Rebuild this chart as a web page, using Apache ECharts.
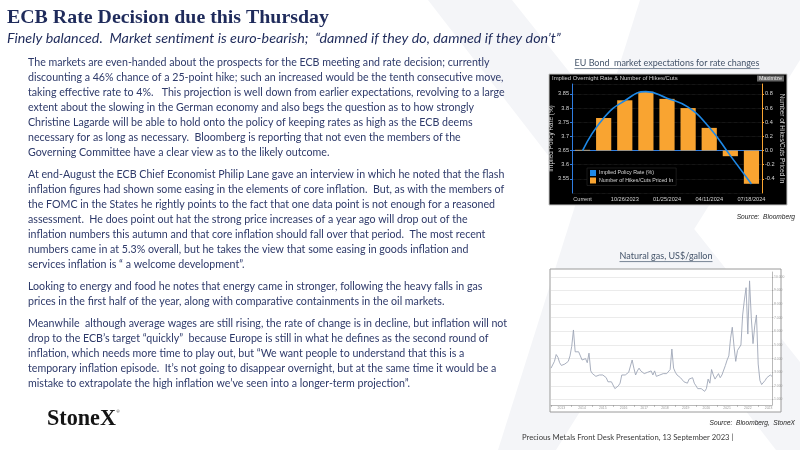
<!DOCTYPE html>
<html>
<head>
<meta charset="utf-8">
<script src="https://cdn.jsdelivr.net/npm/echarts@6/dist/echarts.min.js"></script>
<style>
  html, body { margin: 0; padding: 0; background: #fff; }
  #chart { width: 800px; height: 450px; }
</style>
</head>
<body>
<div id="chart"></div>
<script>
// ECB meetings and what the market prices in for each
const meetingDates = ['Current', '09/14/2023', '10/26/2023', '12/14/2023', '01/25/2024', '03/07/2024', '04/11/2024', '06/06/2024', '07/18/2024'];
const hikesPricedIn = [0.01, 0.46, 0.71, 0.83, 0.73, 0.60, 0.32, -0.08, -0.47];
const impliedRate = [3.65, 3.765, 3.826, 3.858, 3.835, 3.803, 3.732, 3.632, 3.532];

// Natural gas, monthly, Jan 2013 - Sep 2023
const gasYears = ['2013', '2014', '2015', '2016', '2017', '2018', '2019', '2020', '2021', '2022', '2023'];
const gas2013 = [3.3, 3.3, 3.8, 4.3, 4.1, 3.7, 3.5, 3.5, 3.6, 3.6, 3.8, 4.2];
const gas2014 = [4.9, 6.1, 4.5, 4.6, 4.5, 4.4, 3.9, 3.9, 4.0, 3.7, 4.4, 3.1];
const gas2015 = [2.9, 2.8, 2.7, 2.6, 2.8, 2.8, 2.8, 2.7, 2.6, 2.3, 2.2, 2.3];
const gas2016 = [2.3, 1.8, 1.8, 2.0, 2.2, 2.8, 2.8, 2.8, 2.9, 3.0, 3.0, 3.9];
const gas2017 = [3.3, 2.8, 3.1, 3.3, 3.1, 3.0, 2.9, 2.9, 3.0, 2.9, 3.1, 2.8];
const gas2018 = [3.1, 2.7, 2.7, 2.8, 2.9, 2.9, 2.8, 2.9, 3.0, 3.2, 4.7, 3.3];
const gas2019 = [3.0, 2.8, 2.8, 2.6, 2.5, 2.3, 2.2, 2.2, 2.5, 2.4, 2.6, 2.2];
const gas2020 = [2.0, 1.8, 1.7, 1.8, 1.7, 1.6, 1.8, 2.5, 2.2, 3.2, 2.8, 2.5];
const gas2021 = [2.6, 2.9, 2.6, 2.8, 2.9, 3.5, 3.9, 4.2, 5.5, 6.3, 4.9, 3.8];
const gas2022 = [4.6, 4.6, 5.0, 7.2, 8.3, 9.2, 5.8, 9.7, 7.0, 5.1, 6.4, 7.2];
const gas2023 = [3.6, 2.4, 2.1, 2.2, 2.4, 2.6, 2.6, 2.8, 2.7];
const gasTicks = [1, 2, 3, 4, 5, 6, 7, 8, 9, 10];

const gasPrices = [].concat(gas2013, gas2014, gas2015, gas2016, gas2017, gas2018,
  gas2019, gas2020, gas2021, gas2022, gas2023);
const gasMonths = gasPrices.map((v, i) => gasYears[Math.floor(i / 12)] + '-' + ((i % 12) + 1));

// slide texts
const title = 'ECB Rate Decision due this Thursday';
const subtitle = 'Finely balanced.  Market sentiment is euro-bearish;  \u201cdamned if they do, damned if they don\u2019t\u201d';
const paragraphs = [
  [
    'The markets are even-handed about the prospects for the ECB meeting and rate decision; currently',
    'discounting a 46% chance of a 25-point hike; such an increased would be the tenth consecutive move,',
    'taking effective rate to 4%.   This projection is well down from earlier expectations, revolving to a large',
    'extent about the slowing in the German economy and also begs the question as to how strongly',
    'Christine Lagarde will be able to hold onto the policy of keeping rates as high as the ECB deems',
    'necessary for as long as necessary.  Bloomberg is reporting that not even the members of the',
    'Governing Committee have a clear view as to the likely outcome.'
  ],
  [
    'At end-August the ECB Chief Economist Philip Lane gave an interview in which he noted that the flash',
    'inflation figures had shown some easing in the elements of core inflation.  But, as with the members of',
    'the FOMC in the States he rightly points to the fact that one data point is not enough for a reasoned',
    'assessment.  He does point out hat the strong price increases of a year ago will drop out of the',
    'inflation numbers this autumn and that core inflation should fall over that period.  The most recent',
    'numbers came in at 5.3% overall, but he takes the view that some easing in goods inflation and',
    'services inflation is \u201c a welcome development\u201d.'
  ],
  [
    'Looking to energy and food he notes that energy came in stronger, following the heavy falls in gas',
    'prices in the first half of the year, along with comparative containments in the oil markets.'
  ],
  [
    'Meanwhile  although average wages are still rising, the rate of change is in decline, but inflation will not',
    'drop to the ECB\u2019s target \u201cquickly\u201d  because Europe is still in what he defines as the second round of',
    'inflation, which needs more time to play out, but \u201cWe want people to understand that this is a',
    'temporary inflation episode.  It\u2019s not going to disappear overnight, but at the same time it would be a',
    'mistake to extrapolate the high inflation we\u2019ve seen into a longer-term projection\u201d.'
  ]
];

// size a font so a text fits a given width
const ctx = document.createElement('canvas').getContext('2d');
function fitSize(text, font, width) {
  ctx.font = font.replace('{s}', '100px');
  return 100 * width / ctx.measureText(text).width;
}

const navy = '#1F2B5B';
const bodyColor = '#2E3A6A';
const bodyFont = '{s} Lato, sans-serif';
const bodySize = fitSize(paragraphs[0][0], bodyFont, 462);
const titleSize = fitSize(title, 'bold {s} "Liberation Serif", serif', 322);
const subSize = fitSize(subtitle, 'italic {s} Lato, sans-serif', 554);

const graphics = [];

// faint StoneX "X" watermark
graphics.push({ type: 'polygon', z: -10, shape: { points: [[428, 0], [512, 0], [870, 450], [776, 450]] }, style: { fill: '#f4f5f8' } });
graphics.push({ type: 'polygon', z: -10, shape: { points: [[640, 0], [800, 0], [800, 60], [556, 450], [498, 450]] }, style: { fill: '#f4f5f8' } });

function addText(text, x, y, size, opts) {
  opts = opts || {};
  graphics.push({
    type: 'text', x: x, y: y, z: opts.z || 5,
    style: {
      text: text,
      font: (opts.style || '') + ' ' + (opts.weight || 'normal') + ' ' + size + 'px ' + (opts.family || 'Lato, sans-serif'),
      fill: opts.color || bodyColor,
      align: opts.align || 'left', textAlign: opts.align || 'left',
      verticalAlign: 'middle', textVerticalAlign: 'middle'
    }
  });
}

addText(title, 7, 18, titleSize, { weight: 'bold', family: '"Liberation Serif", serif', color: navy });
addText(subtitle, 7, 38.5, subSize, { style: 'italic', color: navy });

let y = 62.7;
paragraphs.forEach((lines) => {
  lines.forEach((line) => {
    addText(line, 28, y, bodySize);
    y += 15;
  });
  y += 7;
});

// StoneX logo
const logoSize = fitSize('StoneX', 'bold {s} "Liberation Serif", serif', 69);
addText('StoneX', 47, 419, logoSize, { weight: 'bold', family: '"Liberation Serif", serif', color: '#141414' });
addText('\u00ae', 116.5, 412, 4, { color: '#141414' });

// footer and sources
const footer = 'Precious Metals Front Desk Presentation, 13 September 2023 |';
addText(footer, 522, 437.5, fitSize(footer, '{s} Lato, sans-serif', 212), { color: '#3a3a3a' });
addText('Source:  Bloomberg', 795, 217, 6.6, { style: 'italic', family: '"Liberation Sans", Arial', color: '#222', align: 'right' });
addText('Source:  Bloomberg,  StoneX', 795, 423, 6.6, { style: 'italic', family: '"Liberation Sans", Arial', color: '#222', align: 'right' });

// underlined chart titles
function addHeading(text, cx, cy, width) {
  const size = fitSize(text, '{s} Lato, sans-serif', width);
  addText(text, cx, cy, size, { color: '#44546A', align: 'center' });
  graphics.push({ type: 'line', z: 5, shape: { x1: cx - width / 2, y1: cy + size * 0.62, x2: cx + width / 2, y2: cy + size * 0.62 }, style: { stroke: '#44546A', lineWidth: 0.7 } });
}
addHeading('EU Bond  market expectations for rate changes', 667, 63, 185);
addHeading('Natural gas, US$/gallon', 666, 256, 93);

// Bloomberg panel
graphics.push({ type: 'rect', z: -5, shape: { x: 549, y: 74, width: 238, height: 131 }, style: { fill: '#000', stroke: '#c8c8c8', lineWidth: 1 } });
const panelHead = 'Implied Overnight Rate & Number of Hikes/Cuts';
addText(panelHead, 552, 78.5, fitSize(panelHead, '{s} "Liberation Sans", Arial', 126), { family: '"Liberation Sans", Arial', color: '#cfcfcf' });
graphics.push({ type: 'rect', z: 4, shape: { x: 757, y: 75.5, width: 27, height: 6 }, style: { fill: '#666' } });
addText('Maximize', 770.5, 78.6, fitSize('Maximize', '{s} "Liberation Sans", Arial', 23), { family: '"Liberation Sans", Arial', color: '#eee', align: 'center' });

// natural gas panel
graphics.push({ type: 'rect', z: -5, shape: { x: 550, y: 269, width: 231, height: 143 }, style: { fill: '#fff', stroke: '#9a9a9a', lineWidth: 1 } });

const chart = echarts.init(document.getElementById('chart'), null, { renderer: 'canvas' });

const axisText = { color: '#d6d6d6', fontSize: 5.6, fontFamily: '"Liberation Sans", Arial' };

const option = {
  animation: false,
  backgroundColor: 'transparent',
  graphic: { elements: graphics },
  legend: {
    left: 587, top: 168,
    orient: 'vertical',
    itemGap: 1.5, itemWidth: 6, itemHeight: 6,
    icon: 'rect',
    padding: [2, 3],
    backgroundColor: '#000', borderColor: '#333', borderWidth: 0.5,
    textStyle: { color: '#d6d6d6', fontSize: 5.3, fontFamily: '"Liberation Sans", Arial', padding: [0, 0, 0, -2] },
    data: ['Implied Policy Rate (%)', 'Number of Hikes/Cuts Priced In']
  },
  grid: [
    { left: 572, right: 38, top: 84, bottom: 257 },
    { left: 551, right: 28, top: 272, bottom: 45 }
  ],
  xAxis: [
    {
      type: 'category', gridIndex: 0, data: meetingDates,
      axisLine: { lineStyle: { color: '#2F7DE1', width: 1 } },
      axisTick: { show: false },
      axisLabel: Object.assign({ interval: 1, margin: 3 }, axisText)
    },
    {
      type: 'category', gridIndex: 1, data: gasMonths, boundaryGap: false,
      axisLine: { lineStyle: { color: '#8a8a8a', width: 0.6 } },
      axisTick: { interval: (i) => i % 12 === 0, length: 2, lineStyle: { color: '#8a8a8a', width: 0.5 } },
      axisLabel: {
        interval: (i) => i % 12 === 6, margin: 1.5,
        color: '#9a9a9a', fontSize: 3.4,
        formatter: (v) => v.slice(0, 4)
      }
    }
  ],
  yAxis: [
    {
      type: 'value', gridIndex: 0, position: 'left',
      min: 3.5, max: 3.885, interval: 0.05,
      name: 'Implied Policy Rate (%)', nameLocation: 'middle', nameGap: 11,
      nameTextStyle: { color: '#d6d6d6', fontSize: 6.4, fontFamily: '"Liberation Sans", Arial' },
      axisLine: { show: true, lineStyle: { color: '#2F7DE1', width: 1 } },
      axisTick: { show: true, length: 2, lineStyle: { color: '#2F7DE1' } },
      axisLabel: Object.assign({
        margin: 3, showMinLabel: false, showMaxLabel: false,
        formatter: (v) => String(Number(v.toFixed(2)))
      }, axisText),
      splitLine: { show: true, lineStyle: { color: '#3a3a3a', type: 'dotted', width: 0.6 } }
    },
    {
      type: 'value', gridIndex: 0, position: 'right',
      min: -0.6, max: 0.94, interval: 0.2,
      name: 'Number of Hikes/Cuts Priced In', nameLocation: 'middle', nameGap: 13, nameRotate: -90,
      nameTextStyle: { color: '#d6d6d6', fontSize: 6.4, fontFamily: '"Liberation Sans", Arial' },
      axisLine: { show: true, lineStyle: { color: '#F9A431', width: 1 } },
      axisTick: { show: true, length: 2, lineStyle: { color: '#F9A431' } },
      axisLabel: Object.assign({
        margin: 3, showMinLabel: false, showMaxLabel: false,
        formatter: (v) => v.toFixed(1)
      }, axisText),
      splitLine: { show: false }
    },
    {
      type: 'value', gridIndex: 1, position: 'right',
      min: 0.6, max: 10.35,
      axisLine: { show: true, lineStyle: { color: '#8a8a8a', width: 0.6 } },
      axisTick: { show: true, customValues: gasTicks, length: 1.5, lineStyle: { color: '#8a8a8a', width: 0.5 } },
      axisLabel: { customValues: gasTicks, margin: 2, color: '#9a9a9a', fontSize: 3.4, formatter: (v) => v.toFixed(3) },
      splitLine: { show: true, lineStyle: { color: '#e2e2e2', width: 0.7 } }
    }
  ],
  series: [
    {
      name: 'Number of Hikes/Cuts Priced In', type: 'bar',
      xAxisIndex: 0, yAxisIndex: 1,
      data: hikesPricedIn, barWidth: '72%',
      itemStyle: { color: '#F9A431' }
    },
    {
      name: 'Implied Policy Rate (%)', type: 'line',
      xAxisIndex: 0, yAxisIndex: 0,
      data: impliedRate, smooth: true, symbol: 'none',
      itemStyle: { color: '#1E88E5' },
      lineStyle: { color: '#1E88E5', width: 1.6 }
    },
    {
      name: 'Natural gas', type: 'line',
      xAxisIndex: 1, yAxisIndex: 2,
      data: gasPrices, symbol: 'none',
      lineStyle: { color: '#9ea6b7', width: 0.9 }
    }
  ]
};

chart.setOption(option);
</script>
</body>
</html>
